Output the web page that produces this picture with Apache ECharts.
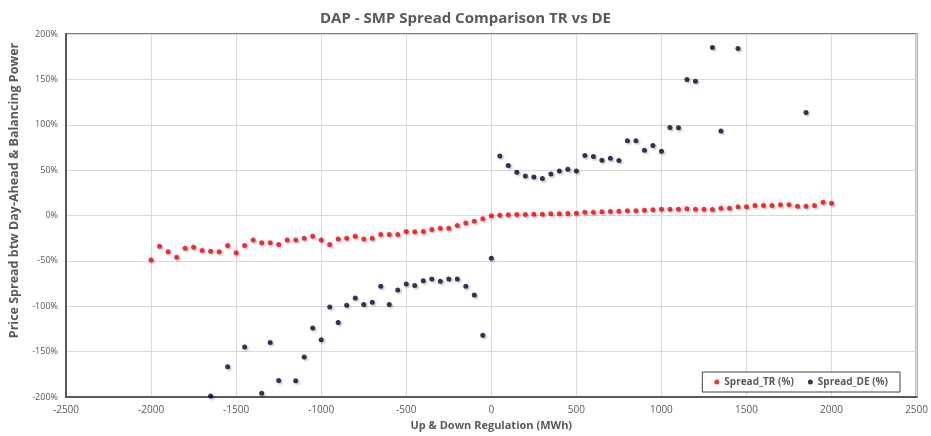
<!DOCTYPE html>
<html>
<head>
<meta charset="utf-8">
<script src="https://cdn.jsdelivr.net/npm/echarts@6/dist/echarts.min.js"></script>
<style>
  html, body { margin: 0; padding: 0; background: #fff; }
  #chart { width: 931px; height: 436px; }
</style>
</head>
<body>
<div id="chart"></div>
<script>
// Spread_TR: regulation (MWh) from -2000 to 2000, step 50
const trRegulation = [
  -2000, -1950, -1900, -1850, -1800, -1750, -1700, -1650, -1600, -1550,
  -1500, -1450, -1400, -1350, -1300, -1250, -1200, -1150, -1100, -1050,
  -1000, -950, -900, -850, -800, -750, -700, -650, -600, -550,
  -500, -450, -400, -350, -300, -250, -200, -150, -100, -50,
  0, 50, 100, 150, 200, 250, 300, 350, 400, 450,
  500, 550, 600, 650, 700, 750, 800, 850, 900, 950,
  1000, 1050, 1100, 1150, 1200, 1250, 1300, 1350, 1400, 1450,
  1500, 1550, 1600, 1650, 1700, 1750, 1800, 1850, 1900, 1950, 2000
]
const trSpread = [
  -49, -34, -40, -46, -36, -35, -38.5, -39.5, -40, -33,
  -41, -33, -27, -30, -30, -32, -27, -27, -25, -23,
  -27, -32, -26, -25, -23, -26, -25, -21, -21, -21,
  -17.6, -18, -17.6, -15.4, -14, -14, -11, -8.4, -6.2, -3.7,
  -0.4, 0.4, 0.8, 1.1, 1.1, 1.5, 1.5, 1.9, 1.9, 2.2,
  2.6, 3.7, 3.7, 4.1, 4.4, 4.8, 5.2, 5.2, 5.9, 6.3,
  7.0, 7.0, 7.0, 7.4, 7.0, 7.0, 6.6, 8.1, 8.1, 9.6,
  9.6, 11, 11, 11, 11.8, 11.8, 10.3, 10.3, 11, 14.7, 13.6
]

// Spread_DE
const deRegulation = [
  -1650, -1550, -1450, -1350, -1300, -1250, -1150, -1100, -1050, -1000,
  -950, -900, -850, -800, -750, -700, -650, -600, -550, -500,
  -450, -400, -350, -300, -250, -200, -150, -100, -50, 0,
  50, 100, 150, 200, 250, 300, 350, 400, 450, 500,
  550, 600, 650, 700, 750, 800, 850, 900, 950, 1000,
  1050, 1100, 1150, 1200, 1300, 1350, 1450, 1850
]
const deSpread = [
  -199, -166.7, -145, -195.8, -140, -181.7, -182, -156, -124, -137,
  -100.7, -118, -99, -91, -98, -95.6, -78, -98, -82, -75.5,
  -77, -72, -70, -72.5, -70, -70, -78, -87.5, -132, -47,
  65.6, 55, 47.6, 43.6, 42.5, 40.7, 45.8, 49, 51, 49,
  66, 65, 61, 63, 60.5, 82.5, 82.5, 72, 77, 70.7,
  97, 96.7, 149.8, 148, 185, 93, 184, 113.6
]

const seriesNames = ['Spread_TR (%)', 'Spread_DE (%)']

const chartInstance = echarts.init(document.getElementById('chart'))

function pairs(xs, ys) {
  return xs.map((x, i) => [x, ys[i]])
}

const textGrey = '#595959'
const fontFam = '"Liberation Sans Narrow", "Open Sans", sans-serif'

const option = {
  animation: false,
  title: {
    text: 'DAP - SMP Spread Comparison TR vs DE',
    left: 'center',
    top: 6,
    textStyle: { color: textGrey, fontSize: 15, fontWeight: 'bold', fontFamily: fontFam },
  },
  grid: {
    left: 64,
    right: 11,
    top: 34,
    bottom: 37,
    show: true,
    borderColor: '#808080',
    borderWidth: 2,
  },
  legend: {
    right: 31,
    top: 372,
    orient: 'horizontal',
    itemWidth: 5,
    itemHeight: 5,
    itemGap: 14,
    padding: [5, 12],
    borderColor: '#404040',
    borderWidth: 1,
    backgroundColor: '#fff',
    icon: 'circle',
    textStyle: { color: textGrey, fontSize: 10, fontWeight: 'bold', fontFamily: fontFam },
    data: seriesNames,
  },
  xAxis: {
    type: 'value',
    min: -2500,
    max: 2500,
    interval: 500,
    name: 'Up & Down Regulation (MWh)',
    nameLocation: 'middle',
    nameGap: 23,
    nameTextStyle: { color: textGrey, fontSize: 11, fontWeight: 'bold', fontFamily: fontFam },
    axisLine: { show: true, onZero: false, lineStyle: { color: '#595959', width: 2 } },
    axisTick: { show: false },
    axisLabel: { color: textGrey, fontSize: 10, fontFamily: fontFam, margin: 8, formatter: (v) => String(v) },
    splitLine: { show: true, lineStyle: { color: '#d9d9d9', width: 1 } },
  },
  yAxis: {
    type: 'value',
    min: -200,
    max: 200,
    interval: 50,
    name: 'Price Spread btw Day-Ahead & Balancing Power',
    nameLocation: 'middle',
    nameGap: 45,
    nameTextStyle: {
      color: textGrey, fontSize: 12.5, fontWeight: 'bold', fontFamily: fontFam,
      padding: [0, 0, 0, 50],
    },
    axisLine: { show: true, onZero: false, lineStyle: { color: '#595959', width: 2 } },
    axisTick: { show: false },
    axisLabel: { color: textGrey, fontSize: 9, fontFamily: fontFam, formatter: '{value}%', margin: 8 },
    splitLine: { show: true, lineStyle: { color: '#d9d9d9', width: 1 } },
  },
  series: [
    {
      name: seriesNames[0],
      type: 'scatter',
      symbolSize: 5,
      data: pairs(trRegulation, trSpread),
      itemStyle: {
        color: '#f0000a',
        shadowColor: 'rgba(0,0,0,0.3)',
        shadowBlur: 2,
        shadowOffsetX: 1.5,
        shadowOffsetY: 1.5,
      },
    },
    {
      name: seriesNames[1],
      type: 'scatter',
      symbolSize: 5,
      data: pairs(deRegulation, deSpread),
      itemStyle: {
        color: '#050530',
        shadowColor: 'rgba(0,0,0,0.3)',
        shadowBlur: 2,
        shadowOffsetX: 1.5,
        shadowOffsetY: 1.5,
      },
    },
  ],
}

chartInstance.setOption(option)
</script>
</body>
</html>
